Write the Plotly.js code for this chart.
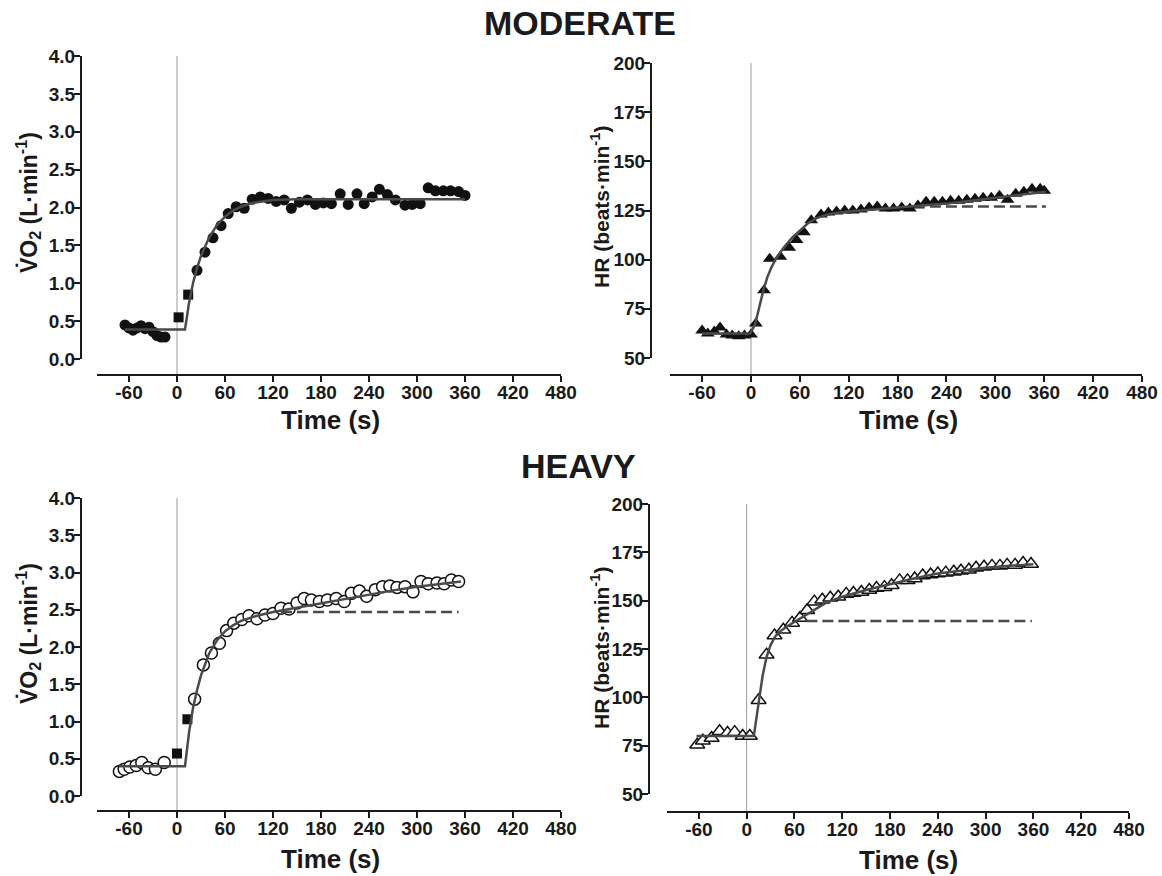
<!DOCTYPE html>
<html>
<head>
<meta charset="utf-8">
<script src="https://cdn.plot.ly/plotly-3.0.1.min.js"></script>
<style>
html,body{margin:0;padding:0;background:#ffffff;}
#chart{width:1162px;height:876px;}
</style>
</head>
<body>
<div id="chart"></div>
<script>
// ---------------- DATA ----------------
// Tick values / labels
const timeTicks = [-60, 0, 60, 120, 180, 240, 300, 360, 420, 480];
const timeTickText = ['-60', '0', '60', '120', '180', '240', '300', '360', '420', '480'];
const vo2Ticks = [0, 0.5, 1.0, 1.5, 2.0, 2.5, 3.0, 3.5, 4.0];
const vo2TickText = ['0.0', '0.5', '1.0', '1.5', '2.0', '2.5', '3.0', '3.5', '4.0'];
const hrTicks = [50, 75, 100, 125, 150, 175, 200];
const hrTickText = ['50', '75', '100', '125', '150', '175', '200'];

// MODERATE – VO2 (filled circles)
const modVo2Time = [-65,-60,-55,-50,-45,-40,-35,-30,-25,-20,-15,
  25,35,45,55,64,74,84,94,104,
  114,124,134,143,153,163,173,183,193,204,214,225,234,244,253,263,273,285,294,304,314,323,333,342,352,360];
const modVo2 = [0.45,0.41,0.38,0.41,0.44,0.40,0.42,0.36,0.31,0.29,0.29,
  1.17,1.41,1.60,1.76,1.92,2.01,1.99,2.11,2.14,
  2.12,2.08,2.10,1.99,2.07,2.10,2.04,2.06,2.05,2.18,2.04,2.18,2.05,2.14,2.24,2.17,2.10,2.03,2.04,2.05,2.26,2.22,2.22,2.22,2.21,2.16];
// MODERATE – VO2 phase I (filled squares)
const modVo2SqTime = [2, 14];
const modVo2Sq = [0.55, 0.85];
// MODERATE – VO2 model fit
const modVo2FitTime = [-65, 10, 15, 20, 25, 30, 40, 50, 60, 70, 80, 90, 100, 120, 150, 360];
const modVo2Fit = [0.39, 0.39, 0.74, 1.00, 1.20, 1.36, 1.60, 1.77, 1.88, 1.96, 2.01, 2.05, 2.07, 2.10, 2.11, 2.11];

// MODERATE – HR (filled triangles)
const modHrTime = [-60,-53,-45,-38,-30,-23,-15,-8,0,
  6,16,23,36,47,56,65,74,86,95,
  105,115,125,135,145,155,165,175,185,195,205,215,225,235,245,255,265,275,285,295,305,315,325,335,345,355,360];
const modHr = [64,62.5,63.5,65.5,62,61.5,61,61.5,62,
  67.5,84.5,100.5,101.5,106,110,114,120,123,124,
  124.5,125,125,125.5,126.5,127,126,126,126.5,126,127.5,129.5,129.5,129.5,130,130,130.5,131,131.5,131.5,132.5,130.5,133.5,134.5,136,136,135];
// MODERATE – HR model fit and primary-component extension
const modHrFitTime = [-60, -1, 5, 10, 15, 20, 25, 30, 40, 50, 60, 70, 80, 90, 100, 120, 150, 180, 210, 240, 270, 300, 330, 362];
const modHrFit = [62.5, 62.5, 67, 76, 84, 91, 96, 100, 106, 111, 115, 118.5, 121, 122.5, 123.5, 124.5, 125.5, 126.5, 127.5, 128.5, 130, 131.5, 133, 134.5];
const modHrDashTime = [200, 362];
const modHrDash = [127, 127];

// HEAVY – VO2 (open circles)
const hvyVo2Time = [-72,-66,-59,-51,-44,-36,-27,-16,
  22,33,43,53,62,71,81,90,100,110,120,130,140,150,159,168,178,188,199,209,218,228,237,248,257,266,275,285,295,305,314,325,334,343,352];
const hvyVo2 = [0.33,0.36,0.39,0.41,0.45,0.38,0.36,0.45,
  1.30,1.76,1.92,2.05,2.22,2.32,2.37,2.42,2.38,2.43,2.45,2.52,2.51,2.59,2.65,2.63,2.61,2.63,2.65,2.61,2.72,2.75,2.68,2.77,2.81,2.82,2.80,2.81,2.74,2.88,2.85,2.86,2.85,2.90,2.88];
// HEAVY – VO2 phase I (filled squares)
const hvyVo2SqTime = [0, 13];
const hvyVo2Sq = [0.57, 1.03];
// HEAVY – VO2 model fit and primary-component extension
const hvyVo2FitTime = [-72, 10, 15, 20, 25, 30, 40, 50, 60, 70, 80, 90, 100, 120, 150, 180, 210, 240, 270, 300, 330, 355];
const hvyVo2Fit = [0.40, 0.40, 0.85, 1.18, 1.42, 1.62, 1.91, 2.09, 2.21, 2.29, 2.35, 2.39, 2.42, 2.47, 2.53, 2.59, 2.65, 2.71, 2.76, 2.81, 2.85, 2.88];
const hvyVo2DashTime = [130, 352];
const hvyVo2Dash = [2.47, 2.47];

// HEAVY – HR (open triangles)
const hvyHrTime = [-62,-55,-44,-34,-24,-15,-5,4,
  15,25,35,46,57,67,76,85,95,105,
  115,125,134,144,154,163,173,182,192,202,211,221,231,240,250,260,269,279,288,298,308,318,327,337,347,357];
const hvyHr = [75.5,77.5,79,82.5,81.5,82,80,80,
  98.5,122,132,135,138.5,141,145,149.5,150.5,151.5,
  152,153.5,154,154.5,155.5,156.5,157,158,160.5,160.5,161.5,163,163.5,164,164.5,165,165.5,166,167,167.5,168,168,168.5,168.5,169.5,169];
// HEAVY – HR model fit and primary-component extension
const hvyHrFitTime = [-63, 9, 15, 20, 25, 30, 35, 40, 50, 60, 75, 90, 100, 120, 150, 180, 210, 240, 270, 300, 330, 360];
const hvyHrFit = [80, 80, 97, 111, 121, 127, 131, 133.5, 136.5, 139, 142.5, 146.5, 149, 152, 155.5, 158.5, 161.5, 164, 165.5, 167, 168, 168.8];
const hvyHrDashTime = [75, 358];
const hvyHrDash = [139.5, 139.5];

// ---------------- LAYOUT HELPERS ----------------
const W = 1162, H = 876;
const fx = p => p / W;
const fy = p => 1 - p / H;
const FONT = 'Liberation Sans, Arial, Helvetica, sans-serif';
const INK = '#1a1a1a';
const FITC = '#4a4a4a';

function xAxis(d0, d1, pos) {
  return {
    domain: [fx(d0), fx(d1)], range: [-100, 480], anchor: 'free', position: fy(pos),
    showline: true, linecolor: INK, linewidth: 2, ticks: 'outside', ticklen: 6, tickwidth: 2, tickcolor: INK,
    tickmode: 'array', tickvals: timeTicks, ticktext: timeTickText, ticklabelstandoff: -6,
    tickfont: {family: FONT, size: 19, weight: 'bold', color: INK},
    showgrid: false, zeroline: false, fixedrange: true
  };
}
function yAxis(d0, d1, pos, range, vals, txt) {
  return {
    domain: [fy(d0), fy(d1)], range: range, anchor: 'free', position: fx(pos),
    showline: true, linecolor: INK, linewidth: 2, ticks: 'outside', ticklen: 6, tickwidth: 2, tickcolor: INK,
    tickmode: 'array', tickvals: vals, ticktext: txt, ticklabelstandoff: -5,
    tickfont: {family: FONT, size: 19, weight: 'bold', color: INK},
    showgrid: false, zeroline: false, fixedrange: true
  };
}

function pts(x, y, xa, ya, marker) {
  return {x: x, y: y, xaxis: xa, yaxis: ya, type: 'scatter', mode: 'markers', marker: marker, hoverinfo: 'skip'};
}
function line(x, y, xa, ya, dash) {
  return {x: x, y: y, xaxis: xa, yaxis: ya, type: 'scatter', mode: 'lines',
    line: {color: FITC, width: 2.5, dash: dash || 'solid'}, hoverinfo: 'skip'};
}

const solidCircle = {symbol: 'circle', size: 11, color: '#111111', line: {width: 0}};
const solidSquare = {symbol: 'square', size: 10, color: '#111111', line: {width: 0}};
const solidTri = {symbol: 'triangle-up', size: 12, color: '#111111', line: {width: 0}};
const openCircle = {symbol: 'circle', size: 12, color: '#ffffff', line: {color: '#111111', width: 1.5}};
const openTri = {symbol: 'triangle-up', size: 13, color: '#ffffff', line: {color: '#111111', width: 1.5}};

const data = [
  pts(modVo2Time, modVo2, 'x', 'y', solidCircle),
  pts(modVo2SqTime, modVo2Sq, 'x', 'y', solidSquare),
  line(modVo2FitTime, modVo2Fit, 'x', 'y'),

  pts(modHrTime, modHr, 'x2', 'y2', solidTri),
  line(modHrFitTime, modHrFit, 'x2', 'y2'),
  line(modHrDashTime, modHrDash, 'x2', 'y2', '11px,5px'),

  pts(hvyVo2Time, hvyVo2, 'x3', 'y3', openCircle),
  pts(hvyVo2SqTime, hvyVo2Sq, 'x3', 'y3', solidSquare),
  line(hvyVo2FitTime, hvyVo2Fit, 'x3', 'y3'),
  line(hvyVo2DashTime, hvyVo2Dash, 'x3', 'y3', '11px,5px'),

  pts(hvyHrTime, hvyHr, 'x4', 'y4', openTri),
  line(hvyHrFitTime, hvyHrFit, 'x4', 'y4'),
  line(hvyHrDashTime, hvyHrDash, 'x4', 'y4', '11px,5px')
];

function vline(xref, yBottom, yTop) {
  return {type: 'line', layer: 'below', xref: xref, yref: 'paper', x0: 0, x1: 0,
    y0: fy(yBottom), y1: fy(yTop), line: {color: '#9a9a9a', width: 1}};
}
function ann(text, cx, cy, size, angle) {
  return {text: text, xref: 'paper', yref: 'paper', x: fx(cx), y: fy(cy),
    xanchor: 'center', yanchor: 'middle', showarrow: false, textangle: angle || 0,
    font: {family: FONT, size: size, weight: 'bold', color: INK}};
}

const vo2Title = 'V\u0307O<sub>2</sub> (L\u00B7min<sup>-1</sup>)';
const hrTitle = 'HR (beats\u00B7min<sup>-1</sup>)';

const layout = {
  width: W, height: H, autosize: false,
  margin: {l: 0, r: 0, t: 0, b: 0, pad: 0},
  paper_bgcolor: '#ffffff', plot_bgcolor: 'rgba(0,0,0,0)',
  showlegend: false, hovermode: false,
  font: {family: FONT, color: INK},
  xaxis: xAxis(97, 561, 375),
  yaxis: yAxis(359, 56, 81, [0, 4], vo2Ticks, vo2TickText),
  xaxis2: xAxis(669.5, 1142, 375),
  yaxis2: yAxis(358, 63, 651, [50, 200], hrTicks, hrTickText),
  xaxis3: xAxis(97, 561, 811),
  yaxis3: yAxis(796, 498, 81, [0, 4], vo2Ticks, vo2TickText),
  xaxis4: xAxis(667, 1129, 812),
  yaxis4: yAxis(794, 504, 649, [50, 200], hrTicks, hrTickText),
  shapes: [
    vline('x', 375, 56),
    vline('x2', 375, 63),
    vline('x3', 811, 498),
    vline('x4', 812, 504)
  ],
  annotations: [
    ann('MODERATE', 580, 23, 34),
    ann('HEAVY', 578, 466, 34),
    ann(vo2Title, 28, 203, 23, -90),
    ann(hrTitle, 600, 207, 21, -90),
    ann(vo2Title, 28, 634, 23, -90),
    ann(hrTitle, 600, 648, 21, -90),
    ann('Time (s)', 330, 420, 26),
    ann('Time (s)', 908, 420, 26),
    ann('Time (s)', 330, 859, 26),
    ann('Time (s)', 908, 860, 26)
  ]
};

Plotly.newPlot('chart', data, layout, {staticPlot: true, displayModeBar: false});
</script>
</body>
</html>
